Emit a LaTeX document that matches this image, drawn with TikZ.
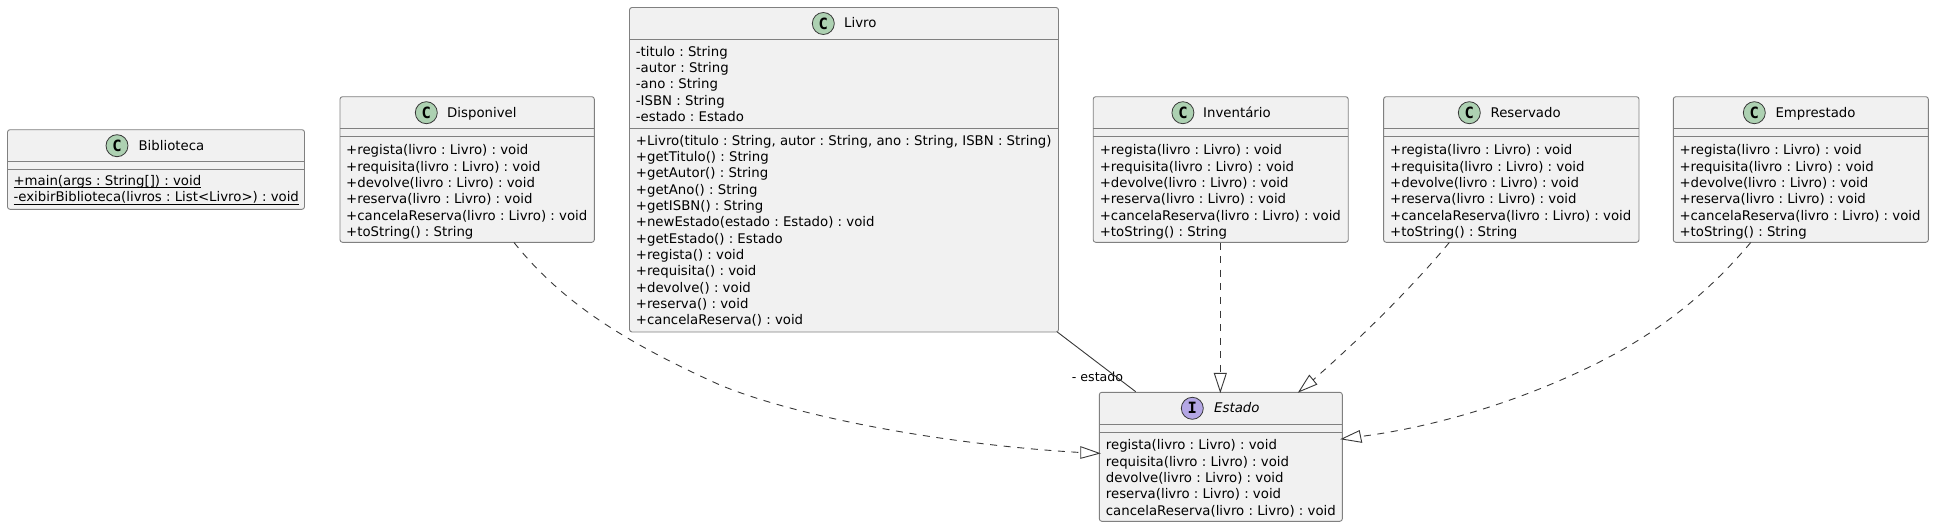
\documentclass[tikz,border=0pt]{standalone}
\usepackage{fontspec}
\setmainfont{DejaVu Sans}
\newfontfamily\glyphfont{DejaVu Sans Mono}
\frenchspacing
\usetikzlibrary{positioning}
\definecolor{boxfill}{HTML}{F1F1F1}
\definecolor{boxline}{HTML}{808080}
\definecolor{conn}{HTML}{383838}
\definecolor{classdot}{HTML}{ADD1B2}
\definecolor{ifacedot}{HTML}{B4A7E5}
\newcommand{\memberfont}{\frenchspacing\fontsize{13.3}{16.33}\selectfont}
\newcommand{\titlefont}{\fontsize{13.3}{16}\selectfont}
\newsavebox{\ulbox}
\newcommand{\ulined}[1]{\sbox{\ulbox}{#1}\rlap{\rule[-3pt]{\wd\ulbox}{0.9pt}}\usebox{\ulbox}}
\tikzset{
  x=1pt,y=-1pt,
  umlbox/.style={draw=boxline,fill=boxfill,line width=0.9pt,rounded corners=2.5pt},
  sepline/.style={draw=boxline,line width=0.9pt},
  members/.style={anchor=north west,inner sep=0pt,align=left,font=\memberfont,text=black},
  title/.style={anchor=base west,inner sep=0pt,font=\titlefont,text=black},
  spot/.style={circle,draw=conn,line width=0.8pt,minimum size=22pt,inner sep=0pt,font=\glyphfont\bfseries\fontsize{15.5}{15.5}\selectfont},
  dep/.style={draw=conn,line width=0.9pt,dash pattern=on 7pt off 6.6pt},
  assoc/.style={draw=conn,line width=0.9pt},
  head/.style={draw=conn,fill=white,line width=0.9pt,line join=miter},
}
\newcommand{\umlclass}[9]{% name x1 y1 x2 y2 ysep1 ysep2 spotx titlex
  \draw[umlbox] (#2,#3) rectangle (#4,#5);
  \coordinate (#1-nw) at (#2,#3);
  \draw[sepline] (#2,#6) -- (#4,#6);
  \draw[sepline] (#2,#7) -- (#4,#7);
  \node[spot,fill=classdot] (#1-spot) at (#8,#3+16) {C};
  \node[title] (#1-title) at (#9,#3+20.5) {\csname ttl#1\endcsname};
}
\newcommand{\ttlbib}{Biblioteca}\newcommand{\ttldis}{Disponivel}\newcommand{\ttlliv}{Livro}
\newcommand{\ttlinv}{Inventário}\newcommand{\ttlres}{Reservado}\newcommand{\ttlemp}{Emprestado}
\newcommand{\statemembers}{+regista(livro : Livro) : void\\+requisita(livro : Livro) : void\\+devolve(livro : Livro) : void\\+reserva(livro : Livro) : void\\+cancelaReserva(livro : Livro) : void\\+toString() : String}
\begin{document}
\begin{tikzpicture}
\useasboundingbox (0,0) rectangle (1934,527);

% classes
\umlclass{bib}{7.5}{129.7}{304.5}{209.3}{161.3}{169.3}{117}{138.4}
\node[members] (bib-m) at (13.4,175) {\ulined{+main(args : String[]) : void}\\\ulined{-exibirBiblioteca(livros : List<Livro>) : void}};

\umlclass{dis}{340}{96.7}{594.3}{242.3}{128.3}{136.3}{426.3}{447}
\node[members] (dis-m) at (346,144.5) {\statemembers};

\umlclass{liv}{629.5}{7.5}{1058.5}{332}{39.5}{128.5}{823.3}{844}
\node[members] (liv-a) at (635.7,46) {-titulo : String\\-autor : String\\-ano : String\\-ISBN : String\\-estado : Estado};
\node[members] (liv-m) at (635.7,135) {+Livro(titulo : String, autor : String, ano : String, ISBN : String)\\+getTitulo() : String\\+getAutor() : String\\+getAno() : String\\+getISBN() : String\\+newEstado(estado : Estado) : void\\+getEstado() : Estado\\+regista() : void\\+requisita() : void\\+devolve() : void\\+reserva() : void\\+cancelaReserva() : void};

\umlclass{inv}{1093.2}{96.7}{1348.2}{242.3}{128.3}{136.3}{1182.9}{1203}
\node[members] (inv-m) at (1099.6,144.5) {\statemembers};

\umlclass{res}{1383.6}{96.7}{1639}{242.3}{128.3}{136.3}{1469.3}{1490.4}
\node[members] (res-m) at (1390,144.5) {\statemembers};

\umlclass{emp}{1673.3}{96.7}{1928.3}{242.3}{128.3}{136.3}{1754.3}{1775.3}
\node[members] (emp-m) at (1679.3,144.5) {\statemembers};

% interface
\draw[umlbox] (1099.3,392.3) rectangle (1342.3,521.3);
\draw[sepline] (1099.3,424.3) -- (1342.3,424.3);
\draw[sepline] (1099.3,432.3) -- (1342.3,432.3);
\node[spot,fill=ifacedot] (est-spot) at (1192.3,408.3) {I};
\node[title,font=\titlefont\itshape] (est-title) at (1214,412.8) {Estado};
\node[members] (est-m) at (1105.7,439.5) {regista(livro : Livro) : void\\requisita(livro : Livro) : void\\devolve(livro : Livro) : void\\reserva(livro : Livro) : void\\cancelaReserva(livro : Livro) : void};

% connector ends
\coordinate (disFrom) at (514,242.5);
\coordinate (disBase) at (1080.7,452.5);
\coordinate (disTip) at (1099.3,453.3);
\coordinate (disC1) at (1080.7,446.7);
\coordinate (disC2) at (1080.7,458.3);
\coordinate (invFrom) at (1220.3,242.5);
\coordinate (invBase) at (1220.3,373.3);
\coordinate (invTip) at (1220.3,391.7);
\coordinate (invC1) at (1214.3,373.3);
\coordinate (invC2) at (1226.3,373.3);
\coordinate (resFrom) at (1449.3,242.5);
\coordinate (resBase) at (1313,380);
\coordinate (resTip) at (1299,391.7);
\coordinate (resC1) at (1309.3,375.3);
\coordinate (resC2) at (1316.7,384.3);
\coordinate (empFrom) at (1750.7,242.5);
\coordinate (empMid) at (1606.7,358.3);
\coordinate (empBase) at (1360.5,436.5);
\coordinate (empTip) at (1341.7,439);
\coordinate (empC1) at (1359.3,430.7);
\coordinate (empC2) at (1361.7,442.3);
\coordinate (disMid) at (720,385);
\coordinate (livFrom) at (1057.3,332);
\coordinate (estTop) at (1135.7,391.7);

% connectors
\node[anchor=base west,inner sep=0pt,font=\fontsize{12.6}{14}\selectfont] (estlabel) at (1071.7,381) {- estado};
\draw[assoc] (livFrom) -- (estTop);
\draw[dep] (disFrom) .. controls (560,300) and (620,340) .. (disMid) .. controls (800,418) and (950,445) .. (disBase);
\draw[head] (disTip) -- (disC1) -- (disC2) -- cycle;
\draw[dep] (invFrom) -- (invBase);
\draw[head] (invTip) -- (invC1) -- (invC2) -- cycle;
\draw[dep] (resFrom) .. controls (1420,278) and (1370,330) .. (resBase);
\draw[head] (resTip) -- (resC1) -- (resC2) -- cycle;
\draw[dep] (empFrom) .. controls (1715,285) and (1670,325) .. (empMid) .. controls (1540,393) and (1450,425) .. (empBase);
\draw[head] (empTip) -- (empC1) -- (empC2) -- cycle;
\end{tikzpicture}
\end{document}
